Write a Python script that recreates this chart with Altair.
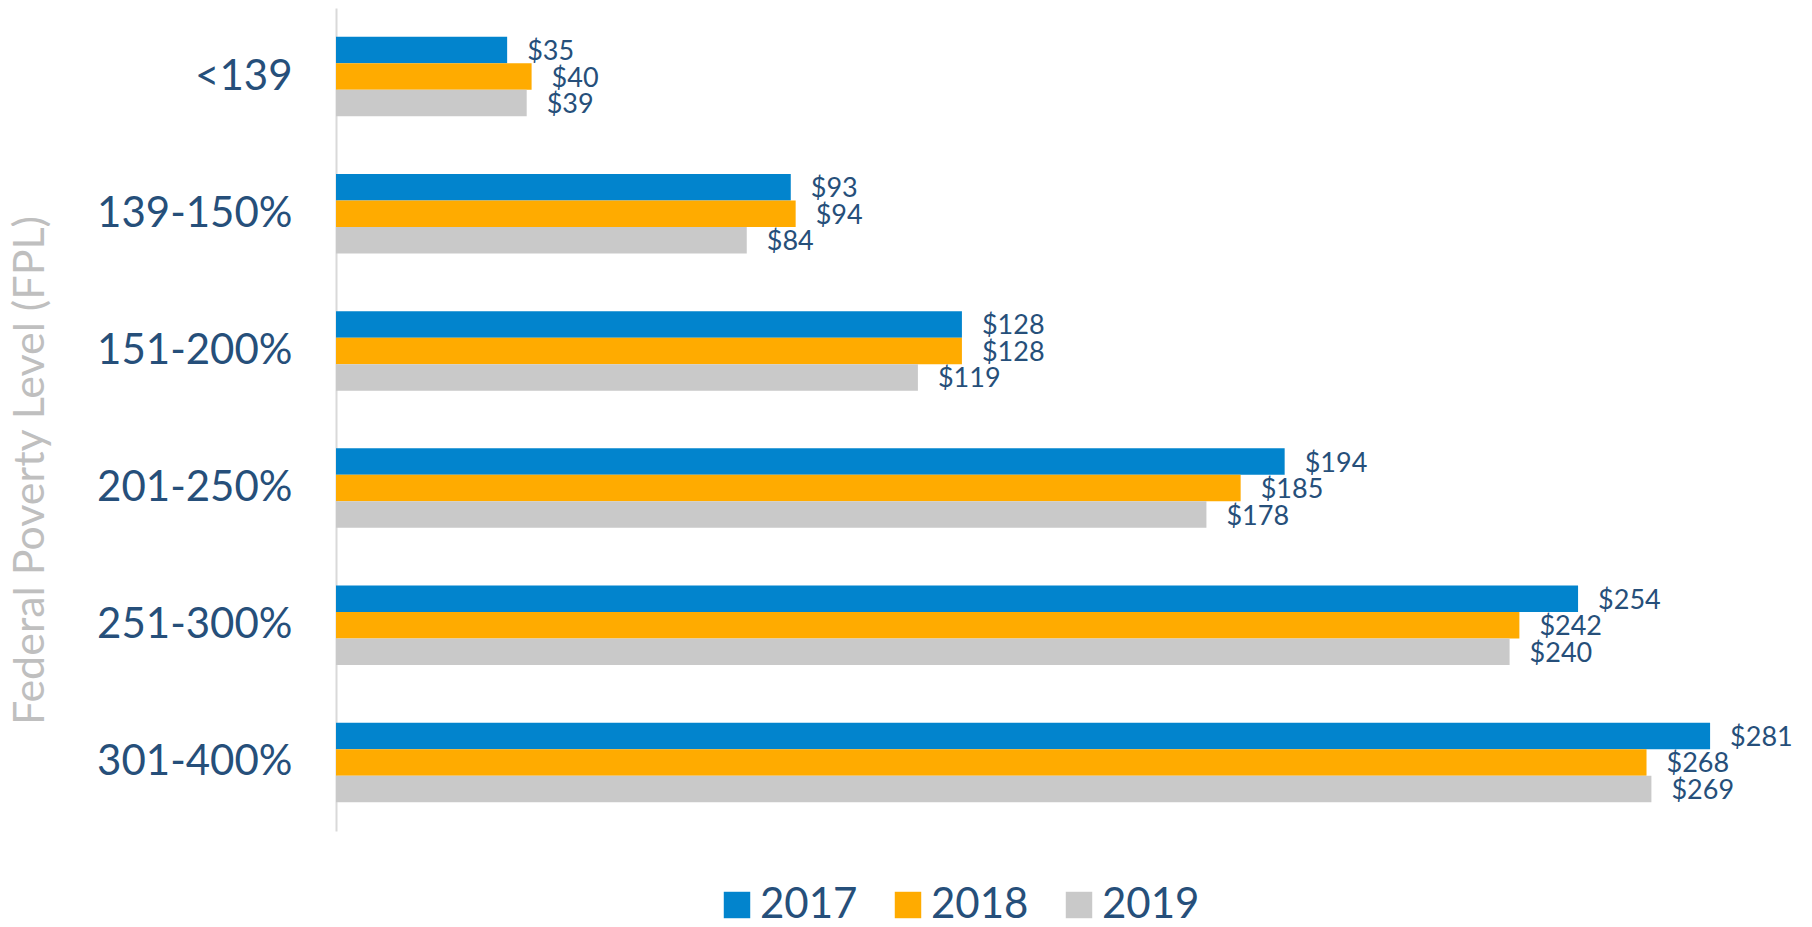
import altair as alt
import pandas as pd

categories = ["<139", "139-150%", "151-200%", "201-250%", "251-300%", "301-400%"]
years = ["2017", "2018", "2019"]
v2017 = [35, 93, 128, 194, 254, 281]
v2018 = [40, 94, 128, 185, 242, 268]
v2019 = [39, 84, 119, 178, 240, 269]
colors = ["#0284CD", "#FFAB00", "#C9C9C9"]

rows = []
for yr, vals in zip(years, [v2017, v2018, v2019]):
    for c, v in zip(categories, vals):
        rows.append({"fpl": c, "year": yr, "value": v, "label": f"${v}"})
df = pd.DataFrame(rows)

TEXT = "#264F7A"
FONT = "Lato"

y_enc = alt.Y("fpl:N", sort=categories,
              scale=alt.Scale(paddingInner=0.42, paddingOuter=0.21),
              axis=alt.Axis(title="Federal Poverty Level (FPL)", titleColor="#BFBFBF",
                            titleFont=FONT, titleFontSize=43, titleFontWeight="normal",
                            titleAngle=-90, titleX=-293, titleY=462, titleBaseline="alphabetic",
                            titleAlign="center",
                            labelFont=FONT, labelFontSize=42, labelColor=TEXT, labelPadding=44,
                            labelLimit=0,
                            ticks=False, domainColor="#D9D9D9", domainWidth=2))
yoff = alt.YOffset("year:N", sort=years, scale=alt.Scale(paddingInner=0, paddingOuter=0))
x_enc = alt.X("value:Q", scale=alt.Scale(domain=[0, 300]), axis=None)

bars = alt.Chart(df).mark_bar().encode(
    y=y_enc, yOffset=yoff, x=x_enc,
    color=alt.Color("year:N", sort=years,
                    scale=alt.Scale(domain=years, range=colors),
                    legend=alt.Legend(title=None, orient="none", direction="horizontal",
                                      legendX=380, legendY=876, symbolType="square",
                                      symbolSize=700, symbolStrokeWidth=0,
                                      labelFont=FONT, labelFontSize=42, labelColor=TEXT,
                                      labelOffset=2, columnPadding=29, padding=0)),
)

labels = alt.Chart(df).mark_text(align="left", baseline="middle", dx=20, dy=2,
                                  font=FONT, fontSize=27, color=TEXT).encode(
    y=alt.Y("fpl:N", sort=categories), yOffset=yoff, x=x_enc, text="label:N",
)

chart = (bars + labels).properties(width=1467, height=823, padding=0).configure_view(
    stroke=None).configure_axis(grid=False)

chart.save("out.html", embed_options={"renderer": "svg", "actions": False})
